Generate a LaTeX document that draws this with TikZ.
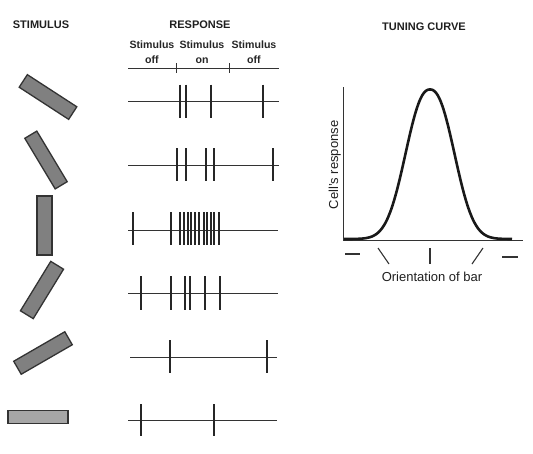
\documentclass[tikz,border=0pt]{standalone}
\usepackage{fontspec}
\setmainfont{Liberation Sans}
\begin{document}
\begin{tikzpicture}[x=1pt,y=-1pt,
  title/.style={font=\bfseries\fontsize{11}{13}\selectfont, text=black!88, inner sep=0pt, anchor=base},
  sub/.style={font=\bfseries\fontsize{10.6}{13}\selectfont, text=black!85, inner sep=0pt, anchor=base},
  lbl/.style={font=\fontsize{13}{15}\selectfont, text=black!88, inner sep=0pt, anchor=base},
  trace/.style={draw=black!80, line width=1pt},
  spike/.style={draw=black!85, line width=1.7pt},
  axisline/.style={draw=black!80, line width=0.9pt},
  curveline/.style={draw=black!90, line width=2.6pt, line join=round},
  tickmark/.style={draw=black!80, line width=1.1pt},
  bar/.style={draw=black!80, fill=black!50, line width=1.3pt, inner sep=0pt, rectangle}
]
\useasboundingbox (0,0) rectangle (533,453);

% titles
\node[title] (t1) at (41,28.5) {STIMULUS};
\node[title] (t2) at (200,28.5) {RESPONSE};
\node[title] (t3) at (424,30.5) {TUNING CURVE};

% response header
\node[sub] (s1) at (152,48) {Stimulus};
\node[sub] (s2) at (202,48) {Stimulus};
\node[sub] (s3) at (254,48) {Stimulus};
\node[sub] (o1) at (152,63) {off};
\node[sub] (o2) at (202,63) {on};
\node[sub] (o3) at (254,63) {off};
\draw[trace] (128,68) -- (279,68);
\draw[trace] (176,63) -- (176,73);
\draw[trace] (229,63) -- (229,73);

% stimulus bars
\node[bar, minimum width=59, minimum height=15, rotate=-33] (b1) at (48,97) {};
\node[bar, minimum width=59, minimum height=14, rotate=-59] (b2) at (46,160) {};
\node[bar, minimum width=59, minimum height=15, rotate=90] (b3) at (44.5,225.5) {};
\node[bar, minimum width=58, minimum height=15, rotate=58.5] (b4) at (42,290) {};
\node[bar, minimum width=59, minimum height=15, rotate=30] (b5) at (43,353) {};
\node[bar, fill=black!35, minimum width=60, minimum height=13] (b6) at (38,417) {};

% response traces
\draw[trace] (128,101) -- (279,101);
\foreach \s in {180,186,211,263} \draw[spike] (\s,84.5) -- (\s,117.5);
\draw[trace] (128,165) -- (279,165);
\foreach \s in {177,186,206,214,273} \draw[spike] (\s,148) -- (\s,181);
\draw[trace] (128,230) -- (278,230);
\foreach \s in {133,171,180,184,188,191,195,199,204,207,211,214,219} \draw[spike] (\s,212) -- (\s,245);
\draw[trace] (128,293) -- (278,293);
\foreach \s in {141,171,185,190,205,220} \draw[spike] (\s,276) -- (\s,310);
\draw[trace] (130,357) -- (277,357);
\foreach \s in {170,267} \draw[spike] (\s,340) -- (\s,373);
\draw[trace] (128,420) -- (277,420);
\foreach \s in {141,214} \draw[spike] (\s,404) -- (\s,436);

% tuning curve
\draw[axisline] (343,87) -- (343,240) -- (523,240);
\draw[curveline] plot[domain=344:512, samples=151] (\x, {239 - 149.5*exp(-((abs(\x-430)+0.01)/31.5)^2.3)});
\draw[tickmark] (345,254) -- (360,254);
\draw[tickmark] (378,248) -- (389,264);
\draw[tickmark] (430,248) -- (430,264);
\draw[tickmark] (472,264) -- (483,248);
\draw[tickmark] (502,257) -- (518,257);
\node[lbl] (xl) at (432,281) {Orientation of bar};
\node[lbl, rotate=90] (yl) at (338,165) {Cell's response};
\end{tikzpicture}
\end{document}
